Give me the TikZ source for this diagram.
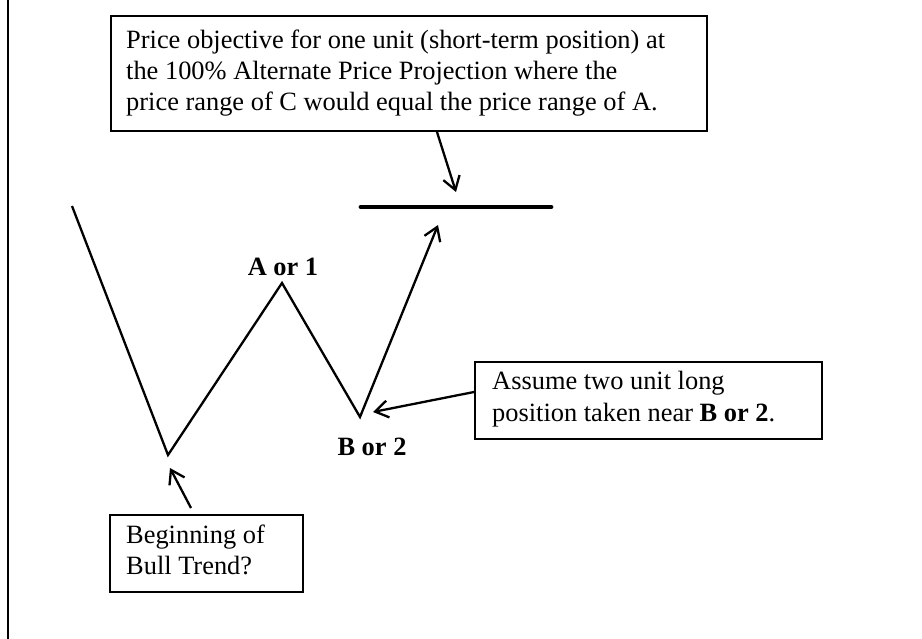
\documentclass[tikz,border=0pt]{standalone}
\usepackage{fontspec}
\setmainfont{Liberation Serif}
\usetikzlibrary{arrows.meta}
\begin{document}
\begin{tikzpicture}[x=1pt,y=-1pt,
  boxshape/.style={draw, line width=2.2pt, inner sep=0pt, anchor=north west},
  txt/.style={inner sep=0pt, anchor=base west, align=left, font=\fontsize{26.4}{31}\selectfont},
  lbl/.style={inner sep=0pt, anchor=base, font=\fontsize{26.4}{31}\selectfont\bfseries},
  wave/.style={line width=2.3pt, line join=miter},
  arr/.style={line width=2.3pt, -{Straight Barb[length=13pt,width=17pt]}},
]
\useasboundingbox[fill=white] (0,0) rectangle (922,639);
% left border
\coordinate (bt) at (8,0);
\coordinate (bb) at (8,639);
\draw[line width=2.3pt] (bt) -- (bb);

% boxes
\node[boxshape, minimum width=596pt, minimum height=115pt] (topbox) at (110,15) {};
\node[txt] (toptext) at (126,111) {Price objective for one unit (short-term position) at\\the 100\% Alternate Price Projection where the\\price range of C would equal the price range of A.};

\node[boxshape, minimum width=347pt, minimum height=77pt] (rightbox) at (474,361) {};
\node[txt, font=\fontsize{26.4}{32}\selectfont] (righttext) at (492,421) {Assume two unit long\\position taken near \textbf{B or 2}.};

\node[boxshape, minimum width=193pt, minimum height=77pt] (botbox) at (109,514) {};
\node[txt] (bottext) at (126,574) {Beginning of\\Bull Trend?};

% wave
\coordinate (p0) at (72,206);
\coordinate (p1) at (168,455);
\coordinate (pA) at (282,283);
\coordinate (pB) at (360,417);
\coordinate (pC) at (438,225);
\draw[wave, arr] (p0) -- (p1) -- (pA) -- (pB) -- (pC);

% labels
\node[lbl] (labA) at (283,276) {A or 1};
\node[lbl] (labB) at (372,455) {B or 2};

% target bar
\coordinate (barL) at (361,207);
\coordinate (barR) at (551,207);
\draw[line width=4.8pt, line cap=round] (barL) -- (barR);

% arrows
\coordinate (t1) at (437,132);
\coordinate (t2) at (456,192);
\draw[arr] (t1) -- (t2);
\coordinate (r1) at (474,392);
\coordinate (r2) at (373,412);
\draw[arr] (r1) -- (r2);
\coordinate (b1) at (191,508);
\coordinate (b2) at (170,468);
\draw[arr] (b1) -- (b2);
\end{tikzpicture}
\end{document}
